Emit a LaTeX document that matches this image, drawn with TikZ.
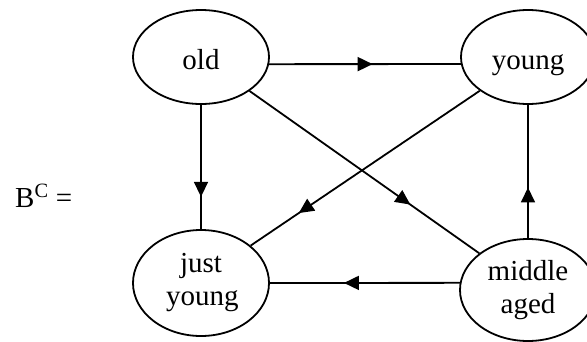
\documentclass[tikz,border=0pt]{standalone}
\usepackage{fontspec}
\setmainfont{Liberation Serif}
\usetikzlibrary{shapes.geometric,arrows.meta,decorations.markings}
\tikzset{
  x=1pt,y=1pt,
  state/.style={ellipse,draw,line width=1.8pt,inner sep=0pt,align=center,
    font=\fontsize{29}{33}\selectfont},
  oneline/.style={text height=26pt,text depth=2pt},
  link/.style={line width=1.8pt,postaction={decorate},
    decoration={markings,mark=at position #1 with {\arrow{Triangle[length=15pt,width=14pt]}}}}
}
\begin{document}
\begin{tikzpicture}
\useasboundingbox (0,0) rectangle (587,-341);
\node[state,oneline,minimum width=136pt,minimum height=94pt] (old) at (201,-57) {old};
\node[state,oneline,minimum width=134pt,minimum height=94pt] (young) at (528,-57) {young};
\node[state,minimum width=136pt,minimum height=106pt] (just) at (201,-283) {\raisebox{-3pt}{\parbox{70pt}{\centering just\\young}}};
\node[state,minimum width=136pt,minimum height=102pt] (mid) at (528,-290) {\raisebox{-4pt}{\parbox{90pt}{\centering middle\\aged}}};
\node[anchor=base west,inner sep=0pt,font=\fontsize{29}{33}\selectfont] (lbl) at (15,-207) {B\textsuperscript{C} =};
\draw[link=0.54] (old.-6) -- (young.186);
\draw[link=0.74] (old.south) -- (just.north);
\draw[link=0.70] (old.-35) -- (mid.143.5);
\draw[link=0.79] (young.215.3) -- (just.37.8);
\draw[link=0.38] (mid.north) -- (young.south);
\draw[link=0.61] (mid.174) -- (just.east);
\end{tikzpicture}
\end{document}
